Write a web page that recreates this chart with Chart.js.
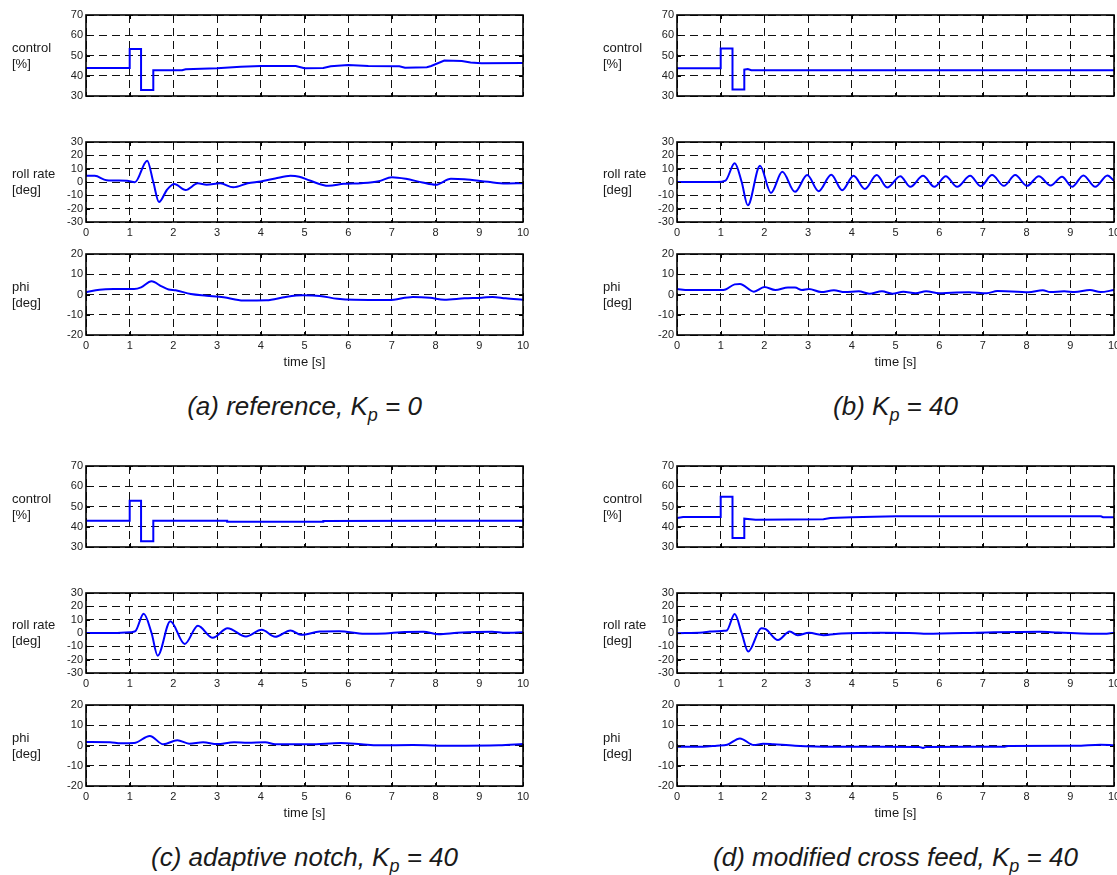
<!DOCTYPE html>
<html>
<head>
<meta charset="utf-8">
<script src="https://cdn.jsdelivr.net/npm/chart.js@4.4.1/dist/chart.umd.min.js"></script>
<style>
  body { margin: 0; background: #fff; width: 1117px; height: 875px; position: relative; overflow: hidden;
         font-family: "Liberation Sans", Arial, sans-serif; color: #1a1a1a; }
  canvas { position: absolute; }
  .ylab { position: absolute; font-size: 13px; line-height: 16px; }
  .xlab { position: absolute; font-size: 13px; width: 200px; text-align: center; }
  .cap  { position: absolute; font-size: 26px; font-style: italic; width: 437px; text-align: center; white-space: nowrap; }
  .cap .sub { font-size: 18px; position: relative; top: 6px; }
</style>
</head>
<body>
<script>
// tick values shared by every subplot
const timeTicks = [0, 1, 2, 3, 4, 5, 6, 7, 8, 9, 10];
const ctrlTicks = [30, 40, 50, 60, 70];
const rateTicks = [-30, -20, -10, 0, 10, 20, 30];
const phiTicks = [-20, -10, 0, 10, 20];

// (a) reference, Kp = 0
const ctrlA_t = [0, 1.0, 1.0, 1.26, 1.26, 1.54, 1.54, 2.2, 2.28, 3.0, 3.54, 4.0, 4.8, 5.0, 5.43, 5.6, 6.0, 6.46, 7.17, 7.3, 7.8, 7.9, 8.2, 8.6, 8.8, 9.05, 10];
const ctrlA_v = [43.8, 43.8, 53.2, 53.2, 33.0, 33.0, 42.7, 42.7, 43.2, 43.7, 44.5, 44.8, 44.8, 43.7, 43.8, 44.7, 45.3, 44.8, 44.7, 44.0, 44.2, 44.8, 47.5, 47.3, 46.5, 46.2, 46.3];
const rateA_t = [0, 0.2, 0.47, 0.94, 1.12, 1.4, 1.54, 1.67, 1.85, 2.02, 2.28, 2.56, 2.76, 3.07, 3.37, 3.7, 4.0, 4.33, 4.68, 4.88, 5.12, 5.55, 5.9, 6.3, 6.7, 7.0, 7.32, 7.7, 8.0, 8.35, 8.66, 9.2, 9.6, 10];
const rateA_v = [4.6, 4.6, 1.4, 0.9, -0.1, 16, 0, -15, -6, -1.5, -6, -1, -2, -1, -4, -1, 0.4, 2.6, 4.6, 3.9, 1.1, -2.9, -1.4, -0.9, 0.6, 3.6, 2.4, -0.4, -2.1, 2.4, 2.1, 0.1, -1.1, -0.9];
const phiA_t = [0, 0.31, 0.63, 1.1, 1.26, 1.5, 1.73, 1.89, 2.05, 2.4, 2.76, 3.15, 3.6, 4.13, 4.57, 4.96, 5.35, 5.75, 6.14, 6.93, 7.48, 7.87, 8.2, 8.66, 9.06, 9.3, 9.6, 10];
const phiA_v = [1.1, 2.4, 2.7, 2.7, 3.5, 6.5, 4.0, 2.5, 2.1, 0.2, -0.6, -1.4, -3.0, -2.9, -1.2, -0.4, -0.7, -2.1, -2.6, -2.7, -1.2, -1.6, -2.6, -1.9, -1.6, -1.2, -1.9, -2.6];

// (b) Kp = 40
const ctrlB_t = [0, 1.0, 1.0, 1.27, 1.27, 1.54, 1.54, 1.62, 1.7, 10];
const ctrlB_v = [43.7, 43.7, 53.5, 53.5, 33.2, 33.2, 43.0, 43.3, 42.7, 42.7];
const rateB_t = [0, 0.42, 0.91, 1.11, 1.32, 1.48, 1.62, 1.9, 2.15, 2.41, 2.7, 2.98, 3.24, 3.53, 3.78, 4.04, 4.3, 4.57, 4.81, 5.11, 5.34, 5.63, 5.89, 6.15, 6.41, 6.71, 6.95, 7.21, 7.48, 7.74, 8.01, 8.28, 8.55, 8.81, 9.04, 9.3, 9.57, 9.85, 10];
const rateB_v = [0, 0, 0, 1.1, 14, 0, -17.5, 12.2, -8.2, 7.7, -7.4, 5.2, -6.9, 5.4, -6.2, 4.6, -5.2, 5.2, -4.1, 4.4, -3.6, 4.6, -3.6, 4.4, -3.6, 4.6, -3.1, 5.2, -2.9, 5.2, -2.9, 4.4, -2.6, 3.9, -3.6, 4.9, -3.6, 4.9, 0.9];
const phiB_t = [0, 0.26, 1.0, 1.11, 1.32, 1.44, 1.76, 2.0, 2.25, 2.54, 2.7, 2.86, 3.02, 3.3, 3.59, 3.84, 4.16, 4.4, 4.69, 4.93, 5.18, 5.46, 5.7, 6.0, 6.28, 6.68, 7.09, 7.33, 7.8, 8.04, 8.37, 8.54, 8.86, 9.1, 9.45, 9.69, 10];
const phiB_v = [2.7, 2.2, 2.2, 2.5, 5.0, 5.2, 1.4, 3.7, 2.2, 3.4, 3.4, 2.2, 2.7, 1.2, 2.1, 1.2, 1.6, 0.4, 1.6, 0.4, 1.4, 0.6, 1.6, 0.6, 0.9, 1.1, 0.6, 1.7, 1.4, 1.1, 2.1, 1.2, 1.6, 1.2, 2.2, 1.2, 2.2];

// (c) adaptive notch, Kp = 40
const ctrlC_t = [0, 1.0, 1.0, 1.26, 1.26, 1.54, 1.54, 3.23, 3.23, 5.43, 5.43, 8.0, 10];
const ctrlC_v = [43, 43, 52.8, 52.8, 32.8, 32.8, 43, 43, 42.5, 42.5, 42.8, 43, 43];
const rateC_t = [0, 0.63, 1.02, 1.13, 1.32, 1.5, 1.64, 1.93, 2.26, 2.56, 2.9, 3.24, 3.66, 4.02, 4.33, 4.68, 4.92, 5.35, 5.79, 6.38, 6.85, 7.2, 7.72, 8.07, 8.5, 9.29, 9.6, 10];
const rateC_v = [0, 0, 0.6, 1.4, 14.4, 0, -17, 8.9, -8.2, 5.4, -3.6, 3.6, -2.6, 2.4, -2.9, 1.9, -1.4, 1.1, 1.4, -0.6, -0.4, 0.6, 0.9, -0.9, 0.1, 0.9, 0.1, 0.6];
const phiC_t = [0, 0.55, 0.79, 1.1, 1.46, 1.77, 2.09, 2.36, 2.68, 3.0, 3.39, 3.7, 4.1, 4.33, 5.12, 5.83, 6.3, 6.69, 7.48, 8.35, 9.45, 10];
const phiC_v = [1.7, 1.6, 1.1, 1.2, 4.7, 0.6, 2.6, 0.9, 1.6, 0.7, 1.6, 1.4, 1.6, 0.6, 0.6, 1.2, 0.6, 0.1, 0.2, -0.1, 0.1, 0.7];

// (d) modified cross feed, Kp = 40
const ctrlD_t = [0, 0.14, 1.0, 1.0, 1.27, 1.27, 1.54, 1.54, 1.8, 3.35, 3.51, 4.0, 5.02, 9.7, 9.75, 10];
const ctrlD_v = [44.3, 44.8, 44.8, 54.8, 54.8, 34.5, 34.5, 44.0, 43.5, 43.7, 44.3, 44.7, 45.2, 45.2, 44.7, 44.7];
const rateD_t = [0, 0.59, 0.75, 1.07, 1.14, 1.32, 1.48, 1.63, 1.93, 2.03, 2.31, 2.58, 2.76, 3.02, 3.35, 3.76, 4.65, 5.46, 5.7, 7.09, 8.31, 8.72, 9.77, 10];
const rateD_v = [-0.1, 0.4, 1.1, 1.6, 1.9, 14.2, 0, -13.9, 3.6, 2.9, -5.2, 1.1, -1.6, 0.1, -1.6, -0.4, 0.1, -0.1, -0.6, 0.4, 0.9, 0.4, -0.6, 0.1];
const phiD_t = [0, 0.59, 0.91, 1.15, 1.44, 1.76, 1.97, 2.21, 2.7, 3.51, 4.65, 5.54, 5.63, 5.7, 7.5, 7.58, 9.13, 9.69, 10];
const phiD_v = [-0.6, -0.6, -0.1, 0.4, 3.5, 0.2, 0.9, 0.6, -0.1, -0.6, -0.6, -0.7, -1.2, -0.7, -0.6, -0.2, -0.1, 0.4, 0.1];

const captions = [
  '(a) reference, K<span class="sub">p</span> = 0',
  '(b) K<span class="sub">p</span> = 40',
  '(c) adaptive notch, K<span class="sub">p</span> = 40',
  '(d) modified cross feed, K<span class="sub">p</span> = 40'
];

const panels = [
  { x: 86,  y: 0,   ctrl: [ctrlA_t, ctrlA_v], rate: [rateA_t, rateA_v], phi: [phiA_t, phiA_v] },
  { x: 677, y: 0,   ctrl: [ctrlB_t, ctrlB_v], rate: [rateB_t, rateB_v], phi: [phiB_t, phiB_v] },
  { x: 86,  y: 451, ctrl: [ctrlC_t, ctrlC_v], rate: [rateC_t, rateC_v], phi: [phiC_t, phiC_v] },
  { x: 677, y: 451, ctrl: [ctrlD_t, ctrlD_v], rate: [rateD_t, rateD_v], phi: [phiD_t, phiD_v] }
];

// subplot rows inside one panel
const rows = [
  { key: 'ctrl', top: 15,  h: 81, min: 30,  max: 70, ticks: ctrlTicks, label: 'control<br>[%]',   xlabels: false, smooth: false },
  { key: 'rate', top: 142, h: 80, min: -30, max: 30, ticks: rateTicks, label: 'roll rate<br>[deg]', xlabels: true, smooth: true },
  { key: 'phi',  top: 254, h: 81, min: -20, max: 20, ticks: phiTicks,  label: 'phi<br>[deg]',      xlabels: true, smooth: true }
];

const PW = 437, LM = 45, TM = 10, RM = 15, BM = 25;

Chart.defaults.font.family = '"Liberation Sans", Arial, sans-serif';
Chart.defaults.font.size = 11;
Chart.defaults.color = '#222';

// box around the axes with short inward tick marks on every side
const framePlugin = {
  id: 'frame',
  afterDraw(chart) {
    const { ctx, chartArea: a, scales: { x, y } } = chart;
    ctx.save();
    ctx.strokeStyle = '#000';
    ctx.lineWidth = 1;
    ctx.beginPath();
    x.ticks.forEach(t => {
      const px = Math.round(x.getPixelForValue(t.value)) + 0.5;
      ctx.moveTo(px, a.top); ctx.lineTo(px, a.top + 4);
      ctx.moveTo(px, a.bottom); ctx.lineTo(px, a.bottom - 4);
    });
    y.ticks.forEach(t => {
      const py = Math.round(y.getPixelForValue(t.value)) + 0.5;
      ctx.moveTo(a.left, py); ctx.lineTo(a.left + 4, py);
      ctx.moveTo(a.right, py); ctx.lineTo(a.right - 4, py);
    });
    ctx.stroke();
    ctx.lineWidth = 1.6;
    ctx.strokeRect(a.left, a.top, a.right - a.left, a.bottom - a.top);
    ctx.restore();
  }
};

function addDiv(cls, html, left, top) {
  const d = document.createElement('div');
  d.className = cls;
  d.innerHTML = html;
  d.style.left = left + 'px';
  d.style.top = top + 'px';
  document.body.appendChild(d);
  return d;
}

panels.forEach((p, pi) => {
  rows.forEach(r => {
    const [ts, vs] = p[r.key];
    const canvas = document.createElement('canvas');
    const w = PW + LM + RM, h = r.h + TM + BM;
    canvas.width = w; canvas.height = h;
    canvas.style.left = (p.x - LM) + 'px';
    canvas.style.top = (p.y + r.top - TM) + 'px';
    canvas.style.width = w + 'px'; canvas.style.height = h + 'px';
    document.body.appendChild(canvas);

    new Chart(canvas.getContext('2d'), {
      type: 'line',
      data: {
        datasets: [{
          data: ts.map((t, i) => ({ x: t, y: vs[i] })),
          borderColor: '#0000ff',
          borderWidth: 2,
          pointRadius: 0,
          tension: 0,
          cubicInterpolationMode: r.smooth ? 'monotone' : 'default'
        }]
      },
      options: {
        responsive: false,
        animation: false,
        events: [],
        layout: { padding: { left: 0, top: TM, right: RM, bottom: 0 } },
        plugins: { legend: { display: false }, tooltip: { enabled: false } },
        scales: {
          x: {
            type: 'linear', min: 0, max: 10,
            afterBuildTicks: s => { s.ticks = timeTicks.map(v => ({ value: v })); },
            afterFit: s => { s.height = BM; },
            grid: { color: '#111', lineWidth: 1, drawTicks: false },
            border: { display: false, dash: [8, 5] },
            ticks: { display: r.xlabels, padding: 4, maxRotation: 0, autoSkip: false, color: '#222' }
          },
          y: {
            type: 'linear', min: r.min, max: r.max,
            afterBuildTicks: s => { s.ticks = r.ticks.map(v => ({ value: v })); },
            afterFit: s => { s.width = LM; },
            grid: { color: '#111', lineWidth: 1, drawTicks: false },
            border: { display: false, dash: [8, 5] },
            ticks: { padding: 3, autoSkip: false, color: '#222' }
          }
        }
      },
      plugins: [framePlugin]
    });

    // two-line label to the left of each subplot
    addDiv('ylab', r.label, p.x - 74, p.y + r.top + r.h / 2 - 16);
  });

  addDiv('xlab', 'time [s]', p.x + PW / 2 - 100, p.y + 354);
  addDiv('cap', captions[pi], p.x, p.y + 391);
});
</script>
</body>
</html>
